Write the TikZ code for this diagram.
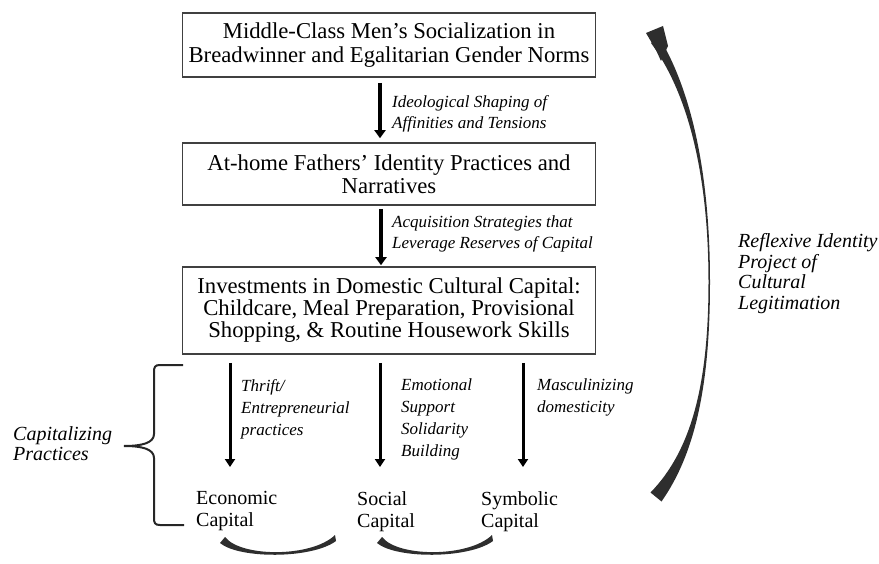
\documentclass[tikz,border=0pt]{standalone}
\usepackage{fontspec}
\setmainfont{Liberation Serif}
\usetikzlibrary{arrows.meta}
\begin{document}
\begin{tikzpicture}[x=1pt,y=-1pt,
  box/.style={draw=black!75, line width=1.6pt, minimum width=413pt, align=center, inner sep=0pt},
  flow/.style={line width=3.6pt, -{Triangle[width=11pt,length=8pt]}},
  sflow/.style={line width=3pt, -{Triangle[width=10pt,length=8pt]}},
  lab/.style={anchor=north west, inner sep=0pt, align=left, font=\fontsize{17}{21}\selectfont\itshape},
  lab2/.style={anchor=north west, inner sep=0pt, align=left, font=\fontsize{17}{22}\selectfont\itshape},
  capl/.style={anchor=north west, inner sep=0pt, align=left, font=\fontsize{20}{22}\selectfont},
  side/.style={anchor=north west, inner sep=0pt, align=left, font=\fontsize{20}{20.8}\selectfont\itshape},
  stroke/.style={fill=black!82, draw=none}
]
\useasboundingbox (0,0) rectangle (879,564);

% boxes
\node[box, minimum height=64pt, font=\fontsize{22.7}{26}\selectfont] (b1) at (389,45)
  {\raisebox{-2pt}{Middle-Class Men’s Socialization in}\\Breadwinner and Egalitarian Gender Norms};
\node[box, minimum height=62pt, font=\fontsize{22.7}{23}\selectfont] (b2) at (389,174)
  {At-home Fathers’ Identity Practices and\\Narratives};
\node[box, minimum height=87pt, font=\fontsize{22.7}{22}\selectfont] (b3) at (389,310.5)
  {Investments in Domestic Cultural Capital:\\Childcare, Meal Preparation, Provisional\\Shopping, \& Routine Housework Skills};

% vertical arrows between boxes
\draw[flow, shorten <=5pt, shorten >=4pt] ([xshift=-9pt]b1.south) -- ([xshift=-9pt]b2.north);
\draw[flow, shorten <=3pt, shorten >=1pt] ([xshift=-8pt]b2.south) -- ([xshift=-8pt]b3.north);

\node[lab] (l1) at (392,95) {Ideological Shaping of\\Affinities and Tensions};
\node[lab] (l2) at (392,216) {Acquisition Strategies that\\Leverage Reserves of Capital};

% capitalizing arrows
\coordinate (t1) at (230,467);
\coordinate (t2) at (380,467);
\coordinate (t3) at (523,467);
\draw[sflow, shorten <=8pt] (b3.south -| t1) -- (t1);
\draw[sflow, shorten <=8pt] (b3.south -| t2) -- (t2);
\draw[sflow, shorten <=8pt] (b3.south -| t3) -- (t3);

\node[lab2] (p1) at (241,379) {Thrift/\\Entrepreneurial\\practices};
\node[lab2] (p2) at (401,379) {Emotional\\Support\\Solidarity\\Building};
\node[lab2] (p3) at (537,379) {Masculinizing\\domesticity};

% capitals
\node[capl] (ec) at (196,491) {Economic\\Capital};
\node[capl] (sc) at (357,491) {Social\\Capital};
\node[capl] (sy) at (481,491) {Symbolic\\Capital};

% side labels
\node[side] (cp) at (13,426) {Capitalizing\\Practices};
\node[side] (rf) at (738,233) {Reflexive Identity\\Project of\\Cultural\\Legitimation};

% brace
\draw[line width=2pt, black!85] (183,365) -- (160,365) .. controls (155,365) and (154,367) .. (154,372)
  -- (154,434) .. controls (154,443) and (142,446) .. (124,446)
  .. controls (142,446) and (154,449) .. (154,458)
  -- (154,518) .. controls (154,523) and (155,525) .. (160,525) -- (184,525);

% big reflexive arrow (tapered stroke)
\fill[stroke] (659,37) .. controls (696.5,99) and (710,190) .. (710,282)
  .. controls (710,380) and (697,451) .. (661.5,501.5)
  -- (650.5,492.5)
  .. controls (693,449) and (708.5,380) .. (708.5,282)
  .. controls (708.5,190) and (693.5,101) .. (651,43) -- cycle;
% its head
\fill[stroke] (646,33) -- (663,26) -- (668,46) -- (661,61) -- (656,50) -- cycle;

% bottom curved connectors
\fill[stroke] (220,543) .. controls (239,559) and (312,559) .. (336,541) -- (335,535)
  .. controls (312,557.5) and (241,557.5) .. (225,537) -- cycle;
\begin{scope}[xshift=157pt]
\fill[stroke] (220,543) .. controls (239,559) and (312,559) .. (336,541) -- (335,535)
  .. controls (312,557.5) and (241,557.5) .. (225,537) -- cycle;
\end{scope}
\end{tikzpicture}
\end{document}
